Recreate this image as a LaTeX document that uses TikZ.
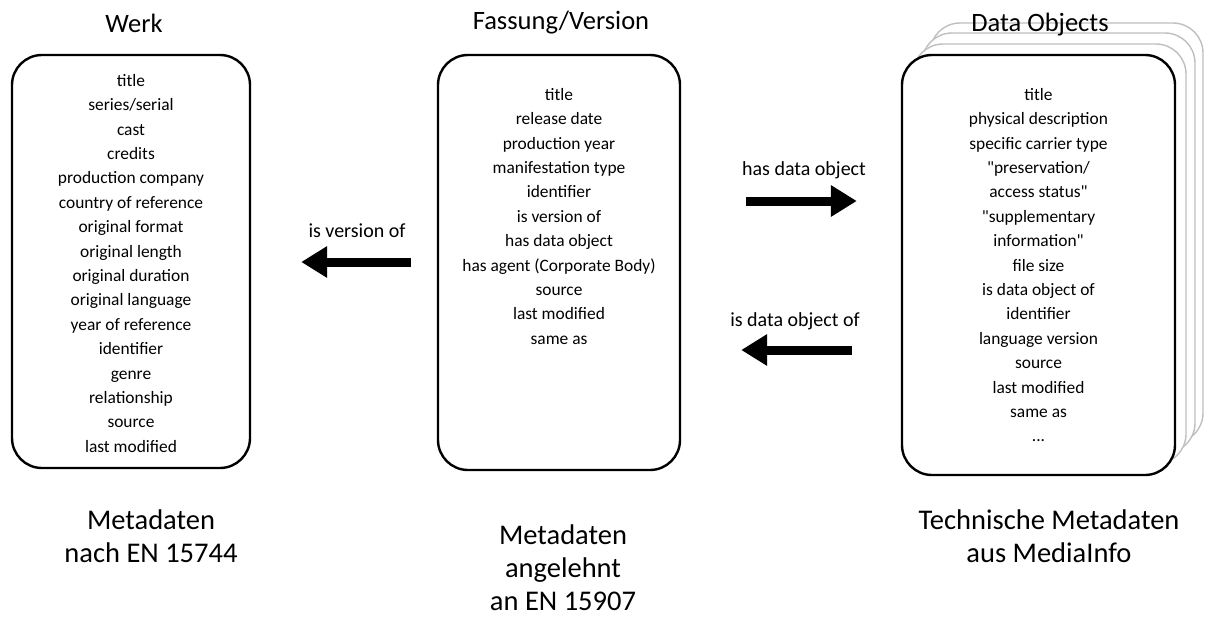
\documentclass[tikz,border=0pt]{standalone}
\usepackage{fontspec}
\setmainfont{Carlito}[Ligatures=TeXOff]
\usetikzlibrary{arrows.meta,calc}
\begin{document}
\begin{tikzpicture}[x=1pt,y=-1pt,
  box/.style={draw=black, line width=2.4pt, rounded corners=30pt, fill=white, inner sep=0pt},
  ghost/.style={draw=black!25, line width=1.4pt, rounded corners=30pt, fill=white, inner sep=0pt},
  list/.style={align=center, inner sep=0pt, font=\fontsize{17.4}{24.4}\selectfont},
  heading/.style={font=\fontsize{26.5}{30}\selectfont},
  caption/.style={align=center, font=\fontsize{28.5}{33}\selectfont},
  rel/.style={font=\fontsize{20}{24}\selectfont},
  bigarrow/.style={line width=9pt, -{Triangle[length=26pt,width=30pt]}}
]
\useasboundingbox (0,0) rectangle (1208,618);

% stacked copies behind the data objects box
\foreach \dx/\dy in {28/-32, 20/-22, 11/-11}
  \node[ghost, minimum width=273pt, minimum height=420pt] at (1038.5+\dx, 265+\dy) {};

% the three boxes
\node[box, minimum width=238pt, minimum height=413pt] (werk) at (131,261.5) {};
\node[box, minimum width=242pt, minimum height=415pt] (fassung) at (559,262.5) {};
\node[box, minimum width=273pt, minimum height=420pt] (data) at (1038.5,265) {};

% headings
\node[heading] (hwerk) at (134,23) {Werk};
\node[heading] (hfassung) at (561,23) {Fassung/Version};
\node[heading] (hdata) at (1040,25) {Data Objects};

% metadata fields
\node[list, anchor=north] (lwerk) at (werk.north |- 0,74) {title\\ series/serial\\ cast\\ credits\\ production company\\ country of reference\\ original format\\ original length\\ original duration\\ original language\\ year of reference\\ identifier\\ genre\\ relationship\\ source\\ last modified};
\node[list, anchor=north] (lfassung) at (fassung.north |- 0,88) {title\\ release date\\ production year\\ manifestation type\\ identifier\\ is version of\\ has data object\\ has agent (Corporate Body)\\ source\\ last modified\\ same as};
\node[list, anchor=north] (ldata) at (data.north |- 0,88) {title\\ physical description\\ specific carrier type\\ "preservation/\\ access status"\\ "supplementary\\ information"\\ file size\\ is data object of\\ identifier\\ language version\\ source\\ last modified\\ same as\\ ...};

% captions below
\node[caption] (cwerk) at (151,536) {Metadaten\\ nach EN 15744};
\node[caption] (cfassung) at (563,568) {Metadaten\\ angelehnt\\ an EN 15907};
\node[caption] (cdata) at (1049,536) {Technische Metadaten\\ aus MediaInfo};

% relations
\draw[bigarrow, shorten <=26pt, shorten >=50pt] (fassung.west |- 0,262) -- (werk.east |- 0,262);
\node[rel] (rversion) at (357,231) {is version of};

\draw[bigarrow, shorten <=65pt, shorten >=44pt] (fassung.east |- 0,201) -- (data.west |- 0,201);
\node[rel] (rhas) at (804,170) {has data object};

\draw[bigarrow, shorten <=49pt, shorten >=60pt] (data.west |- 0,350) -- (fassung.east |- 0,350);
\node[rel] (ris) at (795,321) {is data object of};
\end{tikzpicture}
\end{document}
